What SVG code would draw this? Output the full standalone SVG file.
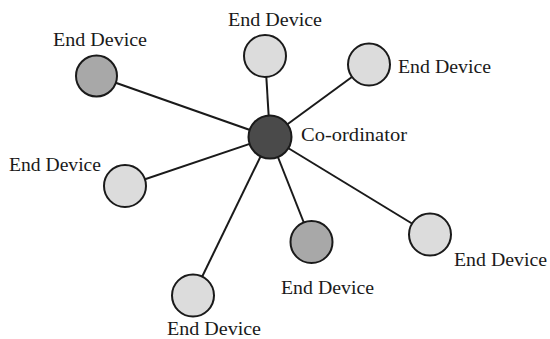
<svg xmlns="http://www.w3.org/2000/svg" width="550" height="339" viewBox="0 0 550 339">
<style>
.n{stroke:#1a1a1a;stroke-width:2}
.light{fill:#dcdcdc}
.mid{fill:#a8a8a8}
.dark{fill:#4a4a4a}
.e{stroke:#1a1a1a;stroke-width:2}
text{font-family:"Liberation Serif","Times New Roman",serif;font-size:18px;fill:#1a1a1a}
</style>
<rect width="550" height="339" fill="#ffffff"/>
<g id="connectors">
<line class="e" x1="270" y1="137" x2="96.5" y2="76"/>
<line class="e" x1="270" y1="137" x2="265" y2="56"/>
<line class="e" x1="270" y1="137" x2="369" y2="64.5"/>
<line class="e" x1="270" y1="137" x2="125" y2="186"/>
<line class="e" x1="270" y1="137" x2="193" y2="295.5"/>
<line class="e" x1="270" y1="137" x2="311.5" y2="242"/>
<line class="e" x1="270" y1="137" x2="430" y2="234.5"/>
</g>
<g id="coordinator">
<circle class="n dark" cx="270" cy="137" r="21.5"/>
<text x="301" y="141" textLength="106" lengthAdjust="spacingAndGlyphs">Co-ordinator</text>
</g>
<g id="end1">
<circle class="n mid" cx="96.5" cy="76" r="20.5"/>
<text x="53" y="46" textLength="94" lengthAdjust="spacingAndGlyphs">End Device</text>
</g>
<g id="end2">
<circle class="n light" cx="265" cy="56" r="21"/>
<text x="228" y="26" textLength="94" lengthAdjust="spacingAndGlyphs">End Device</text>
</g>
<g id="end3">
<circle class="n light" cx="369" cy="64.5" r="21"/>
<text x="398" y="73" textLength="93" lengthAdjust="spacingAndGlyphs">End Device</text>
</g>
<g id="end4">
<circle class="n light" cx="125" cy="186" r="21"/>
<text x="9" y="171" textLength="92" lengthAdjust="spacingAndGlyphs">End Device</text>
</g>
<g id="end5">
<circle class="n light" cx="193" cy="295.5" r="21"/>
<text x="167" y="335" textLength="94" lengthAdjust="spacingAndGlyphs">End Device</text>
</g>
<g id="end6">
<circle class="n mid" cx="311.5" cy="242" r="21"/>
<text x="281" y="294" textLength="93" lengthAdjust="spacingAndGlyphs">End Device</text>
</g>
<g id="end7">
<circle class="n light" cx="430" cy="234.5" r="21"/>
<text x="454" y="266" textLength="93" lengthAdjust="spacingAndGlyphs">End Device</text>
</g>
</svg>
